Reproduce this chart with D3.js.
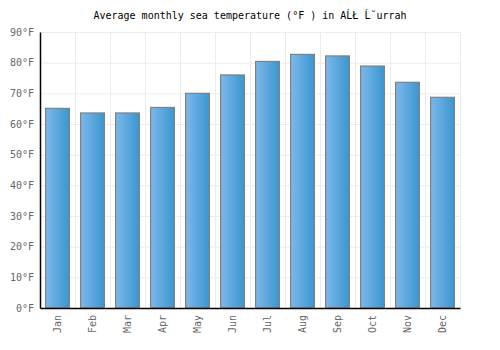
<!DOCTYPE html>
<html>
<head>
<meta charset="utf-8">
<script src="https://cdn.jsdelivr.net/npm/d3@7"></script>
<style>
  body { margin: 0; background: #fff; }
  text { font-family: "DejaVu Sans Mono", monospace; }
</style>
</head>
<body>
<div class="canvas"></div>
<script>
// chart data
const months = ['Jan', 'Feb', 'Mar', 'Apr', 'May', 'Jun', 'Jul', 'Aug', 'Sep', 'Oct', 'Nov', 'Dec']
const temps = [65.1, 63.6, 63.6, 65.4, 70.0, 76.0, 80.4, 82.7, 82.2, 78.9, 73.6, 68.7]
const yTicks = [0, 10, 20, 30, 40, 50, 60, 70, 80, 90]
const title = 'Average monthly sea temperature (°F ) in AĹŁ Ĺ˘urrah'

const dims = { width: 500, height: 350 }
const margin = { top: 32, right: 40, bottom: 42, left: 40 }
const w = dims.width - margin.left - margin.right
const h = dims.height - margin.top - margin.bottom

const svg = d3.select('.canvas')
  .append('svg')
  .attr('width', dims.width)
  .attr('height', dims.height)

const defs = svg.append('defs')
const grad = defs.append('linearGradient')
  .attr('id', 'barGrad')
  .attr('x1', '0%').attr('x2', '100%')
  .attr('y1', '0%').attr('y2', '0%')
grad.append('stop').attr('offset', '0%').attr('stop-color', '#7db8ea')
grad.append('stop').attr('offset', '100%').attr('stop-color', '#3a96d0')

svg.append('text')
  .attr('x', dims.width / 2)
  .attr('y', 19)
  .attr('text-anchor', 'middle')
  .attr('font-size', 10)
  .attr('fill', '#000')
  .text(title)

const graph = svg.append('g')
  .attr('transform', `translate(${margin.left}, ${margin.top})`)

const x = d3.scaleBand()
  .domain(months)
  .range([0, w])
  .paddingInner(0.32)
  .paddingOuter(0.16)

const y = d3.scaleLinear()
  .domain([0, 90])
  .range([h, 0])

// grid lines
graph.append('g')
  .selectAll('line')
  .data(yTicks)
  .enter()
  .append('line')
  .attr('x1', 0)
  .attr('x2', w)
  .attr('y1', d => y(d) + 0.5)
  .attr('y2', d => y(d) + 0.5)
  .attr('stroke', '#ececec')

const step = w / months.length
graph.append('g')
  .selectAll('line')
  .data(d3.range(months.length + 1))
  .enter()
  .append('line')
  .attr('x1', i => i * step + 0.5)
  .attr('x2', i => i * step + 0.5)
  .attr('y1', 0)
  .attr('y2', h)
  .attr('stroke', '#ececec')

// bars
graph.selectAll('rect.bar')
  .data(temps)
  .enter()
  .append('rect')
  .attr('class', 'bar')
  .attr('x', (d, i) => x(months[i]))
  .attr('y', d => y(d))
  .attr('width', x.bandwidth())
  .attr('height', d => h - y(d))
  .attr('fill', 'url(#barGrad)')
  .attr('stroke', '#808080')
  .attr('stroke-width', 1.2)

// axes
const yAxis = d3.axisLeft(y)
  .tickValues(yTicks)
  .tickSize(0)
  .tickPadding(6)
  .tickFormat(d => d + '°F')

const xAxis = d3.axisBottom(x)
  .tickSize(0)
  .tickPadding(6)

const yG = graph.append('g').call(yAxis)
yG.select('.domain').attr('stroke', '#000').attr('stroke-width', 1.5)
yG.selectAll('text').attr('font-size', 10).attr('fill', '#666')
  .attr('font-family', '"DejaVu Sans Mono", monospace')

const xG = graph.append('g')
  .attr('transform', `translate(0, ${h})`)
  .call(xAxis)
xG.select('.domain').attr('stroke', '#000').attr('stroke-width', 1.5)
xG.selectAll('text')
  .attr('font-size', 10)
  .attr('fill', '#666')
  .attr('font-family', '"DejaVu Sans Mono", monospace')
  .attr('text-anchor', 'end')
  .attr('transform', 'rotate(-90)')
  .attr('x', -7)
  .attr('y', 0)
  .attr('dy', '0.35em')
</script>
</body>
</html>
